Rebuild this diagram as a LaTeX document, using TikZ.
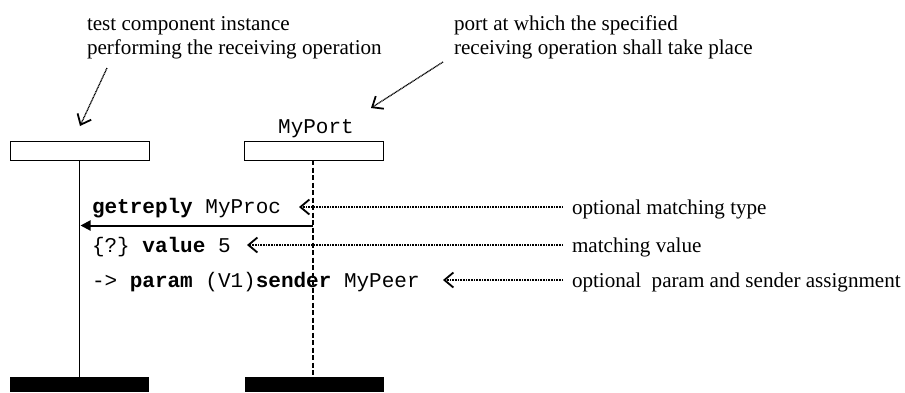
\documentclass[tikz,border=0pt]{standalone}
\usepackage{fontspec}
\setmainfont{Liberation Serif}
\setmonofont{Liberation Mono}
\usetikzlibrary{arrows.meta}
\begin{document}
\begin{tikzpicture}[x=1pt,y=-1pt,
  every node/.style={inner sep=0pt,outer sep=0pt},
  serif/.style={font=\fontsize{21.1}{24}\selectfont\rmfamily,anchor=base west},
  mono/.style={font=\fontsize{21}{24}\selectfont\ttfamily,anchor=base west},
  headbox/.style={draw,line width=0.8pt,minimum width=139pt,minimum height=19pt},
  endbox/.style={fill=black,minimum width=139pt,minimum height=15pt},
  annot/.style={line width=1.3pt,dash pattern=on 1pt off 0.6pt,-{Straight Barb[length=9pt,width=15pt,line width=1.8pt]}},
  msg/.style={line width=2pt,-{Triangle[length=10pt,width=10pt]}}
]
\useasboundingbox (0,0) rectangle (905,392);
% instance heads
\node[headbox] (ih) at (79.5,150.5) {};
\node[headbox] (ph) at (314,150.5) {};
\node[font=\fontsize{21}{24}\selectfont\ttfamily,anchor=base] (pn) at (316,133) {MyPort};
% end boxes
\node[endbox] (ie) at (79.5,384.5) {};
\node[endbox] (pe) at (314,384.5) {};
% lifelines
\draw[line width=0.8pt] (ih.south -| 79.5,0) -- (ie.north -| 79.5,0);
\draw[line width=2.4pt,dash pattern=on 5pt off 2.5pt] (ph.south -| 313,0) -- (pe.north -| 313,0);
% message
\coordinate (ms) at (313,225.5);
\coordinate (me) at (80.5,225.5);
\draw[msg] (ms) -- (me);
% message texts
\node[mono] (t1) at (92,213) {\textbf{getreply} MyProc};
\node[mono] (t2) at (92,252) {\{?\} \textbf{value} 5};
\node[mono] (t3) at (92,287) {-> \textbf{param} (V1)\textbf{sender} MyPeer};
% annotations right
\node[serif] (a1) at (572,214) {optional matching type};
\node[serif] (a2) at (572,252) {matching value};
\node[serif] (a3) at (572,287) {optional\ \ param and sender assignment};
\coordinate (s1) at (563,207);
\coordinate (s2) at (563,245);
\coordinate (s3) at (563,280);
\coordinate (p1) at (299,207);
\coordinate (p2) at (247,245);
\coordinate (p3) at (443,280);
\draw[annot] (s1) -- (p1);
\draw[annot] (s2) -- (p2);
\draw[annot] (s3) -- (p3);
% top annotations
\node[serif] (c1) at (87,30) {test component instance};
\node[serif] (c2) at (87,54) {performing the receiving operation};
\node[serif] (d1) at (454,30) {port at which the specified};
\node[serif] (d2) at (454,54) {receiving operation shall take place};
\coordinate (q1s) at (107,68);
\coordinate (q1e) at (80,126);
\coordinate (q2s) at (443,62);
\coordinate (q2e) at (371,108);
\draw[annot] (q1s) -- (q1e);
\draw[annot] (q2s) -- (q2e);
\end{tikzpicture}
\end{document}
